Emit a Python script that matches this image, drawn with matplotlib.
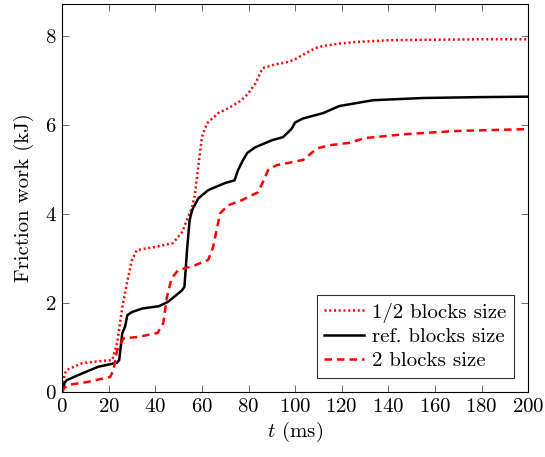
import matplotlib
matplotlib.use("Agg")
import matplotlib.pyplot as plt

plt.rcParams['font.family'] = 'serif'
plt.rcParams['font.serif'] = ['cmr10', 'DejaVu Serif']
plt.rcParams['mathtext.fontset'] = 'cm'
plt.rcParams['axes.formatter.use_mathtext'] = True

# courbes (t en ms, travail en kJ)
t_half = [0, 1, 2, 8.6, 15, 21.5, 23.6, 25.8, 28, 30, 32, 36, 40, 47.6, 51.5, 55.8, 57, 58.5, 60,
          62.2, 67, 72, 77, 80, 83, 86, 91, 97, 100, 104, 108.6, 112, 120, 126.6, 141, 160, 180, 200]
w_half = [0, 0.4, 0.5, 0.65, 0.69, 0.72, 1.1, 1.9, 2.5, 2.97, 3.19, 3.23, 3.26, 3.35, 3.6, 4.16, 4.45, 5.1, 5.73,
          6.04, 6.27, 6.4, 6.56, 6.72, 6.94, 7.28, 7.36, 7.42, 7.48, 7.6, 7.73, 7.78, 7.84, 7.87, 7.91, 7.92, 7.93, 7.93]

t_ref = [0, 1, 2, 8.6, 15.5, 23.6, 24.5, 25.8, 27, 28, 30, 34.5, 41.5, 45.5, 51.5, 52.5, 53.6, 54.7, 55.8,
         58.4, 62.7, 70, 74, 75.5, 77.5, 79.4, 82.8, 90, 94.8, 97, 98.5, 100, 103.4, 112, 119, 133.5, 155, 180, 200]
w_ref = [0, 0.2, 0.27, 0.42, 0.57, 0.66, 0.72, 1.32, 1.47, 1.73, 1.8, 1.88, 1.93, 2.03, 2.29, 2.37, 3.19, 3.86, 4.09,
         4.35, 4.54, 4.7, 4.76, 4.99, 5.2, 5.37, 5.5, 5.66, 5.73, 5.84, 5.92, 6.06, 6.15, 6.27, 6.43, 6.56, 6.61, 6.63, 6.64]

t_two = [0, 1, 2.6, 11, 20.6, 22, 23.6, 26.4, 32.6, 41, 43.4, 45, 47, 49.8, 57, 62.7, 64.8, 67.8, 71.3,
         77, 84, 86, 88.4, 92, 98, 103.5, 109.5, 115, 123, 130, 148, 169.5, 200]
w_two = [0, 0.1, 0.16, 0.23, 0.34, 0.49, 0.94, 1.21, 1.24, 1.33, 1.55, 2.14, 2.56, 2.74, 2.85, 2.97, 3.26, 4.02, 4.2,
         4.31, 4.49, 4.7, 4.99, 5.1, 5.16, 5.22, 5.48, 5.55, 5.6, 5.71, 5.8, 5.87, 5.91]

fig = plt.figure(figsize=(5.45, 4.57), dpi=100)
ax = fig.add_axes([0.114, 0.142, 0.855, 0.849])

ax.plot(t_half, w_half, color='red', lw=1.8, linestyle=(0, (0.8, 1.1)), label='1/2 blocks size')
ax.plot(t_ref, w_ref, color='black', lw=1.8, label='ref. blocks size')
ax.plot(t_two, w_two, color='red', lw=1.8, linestyle=(0, (3, 2)), label='2 blocks size')

ax.set_xlim(0, 200)
ax.set_ylim(0, 8.72)
ax.set_xticks(range(0, 201, 20))
ax.set_yticks([0, 2, 4, 6, 8])
ax.tick_params(direction='in', top=True, right=True, labelsize=15, length=5, width=0.6,
               color='#555555', pad=4)
ax.set_xlabel('$t$ (ms)', fontsize=15, labelpad=3)
ax.set_ylabel('Friction work (kJ)', fontsize=15, labelpad=8)

leg = ax.legend(loc='lower right', fontsize=15, fancybox=False, edgecolor='black',
                handlelength=1.9, borderaxespad=0.7, borderpad=0.35, labelspacing=0.25,
                handletextpad=0.4)
leg.get_frame().set_linewidth(0.8)

fig.savefig('out.png', dpi=100)
